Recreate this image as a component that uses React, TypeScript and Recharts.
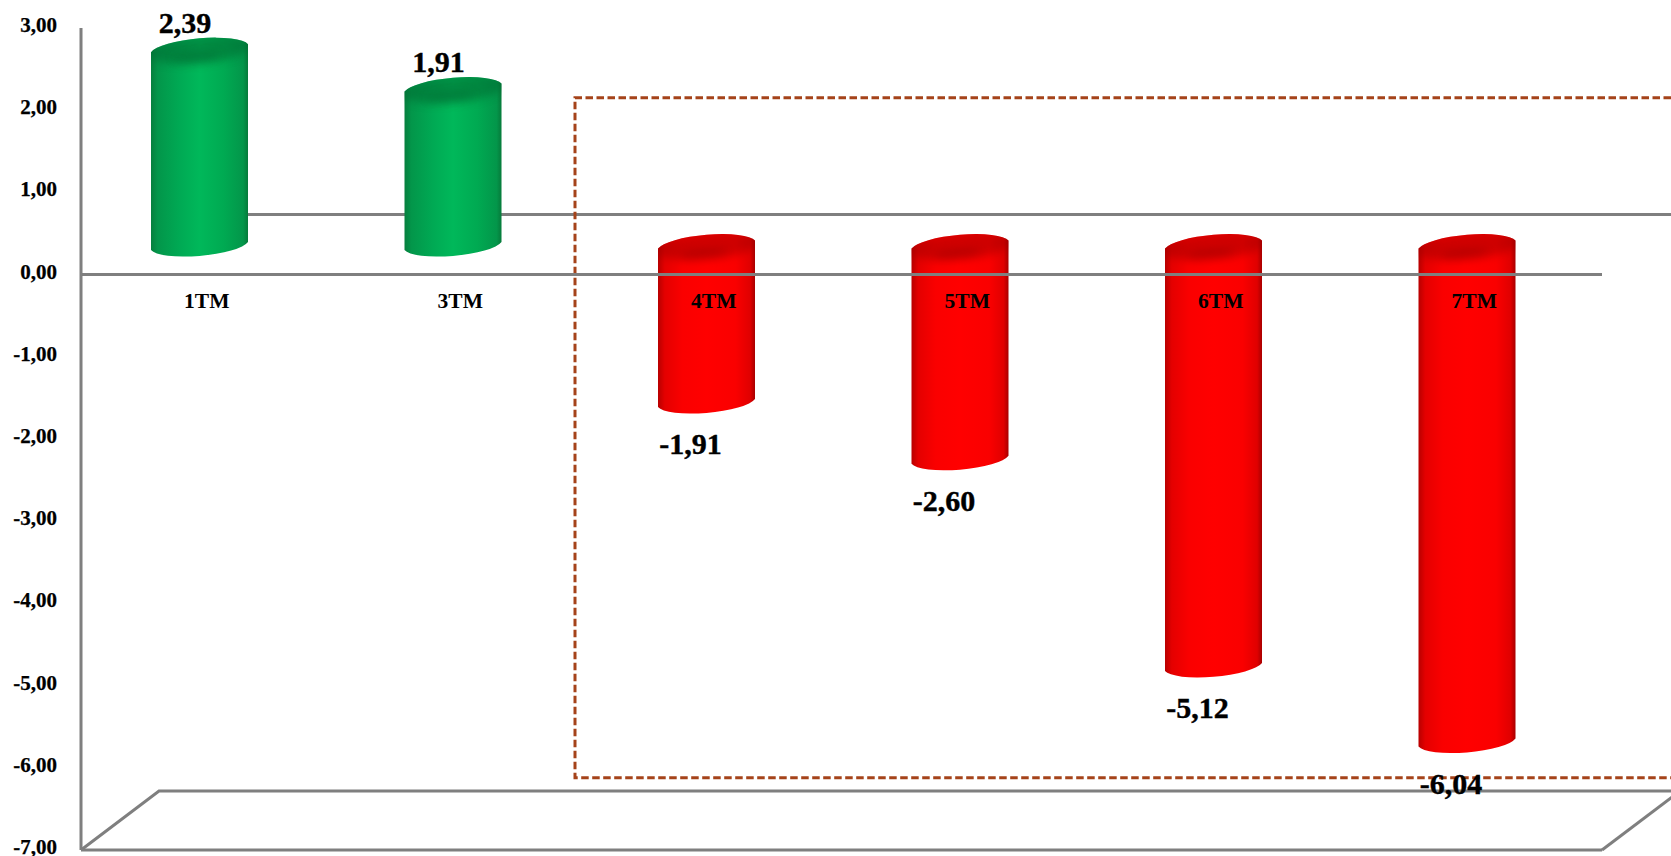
import { BarChart, Bar, XAxis, YAxis, ReferenceLine, LabelList, Customized } from "recharts";

const categories = ["1TM", "3TM", "4TM", "5TM", "6TM", "7TM"];
const values = [2.39, 1.91, -1.91, -2.6, -5.12, -6.04];
const yTicks = [3, 2, 1, 0, -1, -2, -3, -4, -5, -6, -7];

const chartData = categories.map((name, i) => ({ name, value: values[i] }));

const WIDTH = 1671;
const HEIGHT = 856;
const PLOT_LEFT = 81;
const PLOT_RIGHT = 1602;
const PLOT_TOP = 28;
const PLOT_BOTTOM = 850;
const DOMAIN: [number, number] = [-7, 3];

// oblique projection of the chart box
const DEPTH_X = 78;
const DEPTH_Y = 59;
const BAR_SHIFT_X = -8;
const BAR_SHIFT_Y = -30;

const AXIS_COLOR = "#7f7f7f";
const FONT = "'Liberation Serif', 'Times New Roman', serif";

const yPx = (v: number) =>
  PLOT_TOP + ((DOMAIN[1] - v) / (DOMAIN[1] - DOMAIN[0])) * (PLOT_BOTTOM - PLOT_TOP);

const fmt = (v: number) => v.toFixed(2).replace(".", ",");

const BackLines = () => {
  const zeroBack = yPx(0) - DEPTH_Y - 1;
  const floorBack = PLOT_BOTTOM - DEPTH_Y;
  const bx = PLOT_LEFT + DEPTH_X;
  return (
    <g stroke={AXIS_COLOR} strokeWidth={3} fill="none">
      <line x1={bx} y1={zeroBack} x2={WIDTH} y2={zeroBack} />
      <polyline points={`${PLOT_LEFT},${PLOT_BOTTOM} ${bx},${floorBack} ${WIDTH},${floorBack}`} />
      <line x1={PLOT_RIGHT} y1={PLOT_BOTTOM} x2={PLOT_RIGHT + DEPTH_X} y2={floorBack} />
    </g>
  );
};

const HighlightBox = () => {
  const left = 575;
  const top = yPx(2.15);
  const bottom = yPx(-6.12);
  return (
    <path
      d={`M${WIDTH} ${top} H${left} V${bottom} H${WIDTH}`}
      fill="none"
      stroke="#a5431a"
      strokeWidth={3}
      strokeDasharray="7.5 3.5"
    />
  );
};

const Cylinder = ({ x, y, width, height, value }: any) => {
  const yA = Math.min(y, y + height) + BAR_SHIFT_Y;
  const yB = Math.max(y, y + height) + BAR_SHIFT_Y + 1.5;
  const xL = x + BAR_SHIFT_X;
  const xR = xL + width;
  const cx = xL + width / 2;
  const tilt = 4;
  const rx = width / 2 + 1;
  const ry = 12;
  const rot = -5;
  const up = value >= 0;
  const arc = (tx: number, ty: number) => `A${rx} ${ry} ${rot} 0 1 ${tx} ${ty}`;
  const body = `M${xL} ${yA + tilt} ${arc(xR, yA - tilt)} L${xR} ${yB - tilt} ${arc(xL, yB + tilt)} Z`;
  const clipId = `cyl-${Math.round(x)}`;
  const shade = up ? "#056b33" : "#9a0000";
  return (
    <g>
      <clipPath id={clipId}>
        <path d={body} />
      </clipPath>
      <path d={body} fill={`url(#${up ? "cylGreen" : "cylRed"})`} />
      <g clipPath={`url(#${clipId})`}>
        {/* soft shading of the rim and the hollow of the top face */}
        <ellipse
          cx={cx}
          cy={yA + 1}
          rx={rx + 4}
          ry={ry + 2}
          transform={`rotate(${rot} ${cx} ${yA})`}
          fill={shade}
          opacity={up ? 0.55 : 0.45}
          filter="url(#capBlur)"
        />
        <ellipse
          cx={cx - 4}
          cy={yA + 8}
          rx={24}
          ry={4}
          transform={`rotate(${rot} ${cx} ${yA})`}
          fill={shade}
          opacity={0.45}
          filter="url(#capBlur)"
        />
      </g>
    </g>
  );
};

const ValueLabel = ({ x, y, width, height, value }: any) => {
  const yA = Math.min(y, y + height) + BAR_SHIFT_Y;
  const yB = Math.max(y, y + height) + BAR_SHIFT_Y;
  const cx = x + BAR_SHIFT_X + width / 2;
  const up = value >= 0;
  return (
    <text
      x={cx + (up ? -14.5 : -16)}
      y={up ? yA - 26 : yB + 42}
      textAnchor="middle"
      dominantBaseline="central"
      fontFamily={FONT}
      fontWeight="bold"
      fontSize={30}
      fill="#000"
      stroke="#000"
      strokeWidth={0.4}
    >
      {fmt(value)}
    </text>
  );
};

const CategoryTick = ({ x, payload }: any) => (
  <text
    x={x - 1}
    y={yPx(0) + 26}
    textAnchor="middle"
    dominantBaseline="central"
    fontFamily={FONT}
    fontWeight="bold"
    fontSize={21.5}
    fill="#000"
  >
    {payload.value}
  </text>
);

const ValueTick = ({ x, y, payload }: any) => (
  <text
    x={x}
    y={y - 3}
    textAnchor="end"
    dominantBaseline="central"
    fontFamily={FONT}
    fontWeight="bold"
    fontSize={21}
    fill="#000"
    stroke="#000"
    strokeWidth={0.25}
  >
    {fmt(payload.value)}
  </text>
);

export default function App() {
  return (
    <div style={{ position: "absolute", left: 0, top: 0, background: "#fff" }}>
      <BarChart
        width={WIDTH}
        height={HEIGHT}
        data={chartData}
        margin={{ top: PLOT_TOP, right: WIDTH - PLOT_RIGHT, bottom: 0, left: 0 }}
      >
        <defs>
          <linearGradient id="cylGreen" x1="0" y1="0" x2="1" y2="0">
            <stop offset="0" stopColor="#067f3e" />
            <stop offset="0.07" stopColor="#03964a" />
            <stop offset="0.3" stopColor="#00aa54" />
            <stop offset="0.5" stopColor="#00b85a" />
            <stop offset="0.75" stopColor="#00aa52" />
            <stop offset="0.95" stopColor="#03964a" />
            <stop offset="1" stopColor="#067a3a" />
          </linearGradient>
          <linearGradient id="cylRed" x1="0" y1="0" x2="1" y2="0">
            <stop offset="0" stopColor="#b80000" />
            <stop offset="0.07" stopColor="#e40000" />
            <stop offset="0.25" stopColor="#fa0000" />
            <stop offset="0.5" stopColor="#ff0000" />
            <stop offset="0.8" stopColor="#fa0000" />
            <stop offset="0.95" stopColor="#e00000" />
            <stop offset="1" stopColor="#a80000" />
          </linearGradient>
          <filter id="capBlur" x="-30%" y="-100%" width="160%" height="300%">
            <feGaussianBlur stdDeviation="4" />
          </filter>
        </defs>
        <Customized component={BackLines} />
        <YAxis
          type="number"
          domain={DOMAIN}
          ticks={yTicks}
          interval={0}
          width={PLOT_LEFT}
          tickSize={0}
          tickMargin={24}
          axisLine={{ stroke: AXIS_COLOR, strokeWidth: 3 }}
          tickLine={false}
          tick={<ValueTick />}
        />
        <Bar dataKey="value" barSize={97} shape={<Cylinder />} isAnimationActive={false}>
          <LabelList dataKey="value" content={<ValueLabel />} />
        </Bar>
        <ReferenceLine y={0} stroke={AXIS_COLOR} strokeWidth={3} />
        <XAxis
          dataKey="name"
          height={HEIGHT - PLOT_BOTTOM}
          interval={0}
          axisLine={{ stroke: AXIS_COLOR, strokeWidth: 3 }}
          tickLine={false}
          tick={<CategoryTick />}
        />
        <Customized component={HighlightBox} />
      </BarChart>
    </div>
  );
}
